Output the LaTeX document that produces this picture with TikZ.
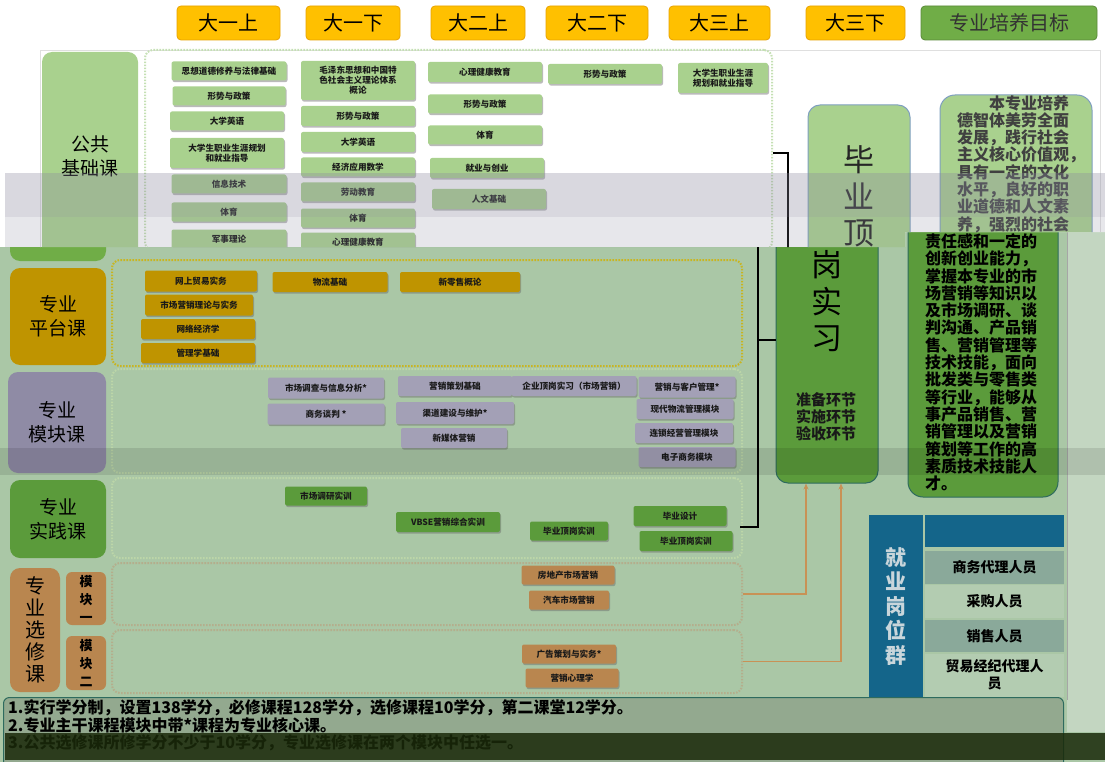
\documentclass[tikz,border=0pt]{standalone}
\usepackage{fontspec}
\setmainfont{Noto Sans CJK SC}
\usetikzlibrary{shadows,arrows.meta}
\definecolor{lowbg}{HTML}{AAC7A6}
\definecolor{lgreen}{HTML}{A9D18E}
\definecolor{ggreen}{HTML}{70AD47}
\definecolor{gold}{HTML}{BF9400}
\definecolor{lav}{HTML}{A3A0B6}
\definecolor{lavlab}{HTML}{8F8BA5}
\definecolor{pgreen}{HTML}{5B9B3B}
\definecolor{tanc}{HTML}{B9864F}
\definecolor{tanline}{HTML}{C89256}
\definecolor{eblue}{HTML}{14658A}
\definecolor{rowd}{HTML}{8AA99A}
\definecolor{rowl}{HTML}{B3CCB1}
\definecolor{notebg}{HTML}{93A98F}
\definecolor{hdrfill}{HTML}{FFC000}
\definecolor{hdrdraw}{HTML}{E8A200}
\definecolor{dotlg}{HTML}{C5E0B4}
\definecolor{dotyl}{HTML}{C9B520}
\definecolor{dotmd}{HTML}{BCD6A8}
\definecolor{dotel}{HTML}{B4AE8C}
\definecolor{bluegrey}{HTML}{7F9FC0}
\definecolor{dteal}{HTML}{2E6B5E}
\definecolor{bandc}{HTML}{8A889E}
\definecolor{darkband}{HTML}{1A2A0A}
\definecolor{strip}{HTML}{C3D6C1}
\definecolor{jobtxt}{HTML}{C9D6DB}
\begin{document}
\begin{tikzpicture}[x=1pt,y=-1pt,
  crs/.style={rounded corners=2pt, inner sep=1pt, align=center,
    font=\fontsize{8.6}{10}\selectfont\bfseries, text=black!90,
    drop shadow={shadow xshift=1pt,shadow yshift=-1.6pt,opacity=0.45,fill=black!60}},
  lg/.style={crs, fill=lgreen},
  gd/.style={crs, fill=gold},
  pu/.style={crs, fill=lav},
  dg/.style={crs, fill=pgreen},
  br/.style={crs, fill=tanc},
  lab/.style={rounded corners=10pt, align=center, inner sep=0,
    font=\fontsize{19}{24}\selectfont},
  dotbox/.style={draw=#1, rounded corners=8pt, line width=2pt,
    dash pattern=on 1.6pt off 1.4pt, inner sep=0},
  hdr/.style={rounded corners=4pt, fill=hdrfill, draw=hdrdraw, line width=0.8pt,
    minimum height=34pt, inner sep=0, font=\fontsize{20}{22}\selectfont},
  brk/.style={line width=2.5pt, black},
  tanarr/.style={draw=tanline, line width=1.2pt, -{Stealth[length=6pt,width=5pt]}},
  goaltxt/.style={anchor=north west, align=left, inner sep=0,
    font=\fontsize{16}{17.3}\selectfont\bfseries},
  bigtxt/.style={align=center, inner sep=0, font=\fontsize{31}{36.5}\selectfont},
  row/.style={minimum width=139pt, inner sep=0, align=center,
    font=\fontsize{14}{17}\selectfont\bfseries},
  note/.style={anchor=west, inner sep=0, font=\fontsize{16}{18}\selectfont\bfseries}
]
\useasboundingbox (0,0) rectangle (1105,762);

% ===== lower layer =====
\fill[lowbg] (0,0) rectangle (1105,762);
\fill[strip] (1067,230) rectangle (1105,732);
\draw[gray!70, line width=0.8pt] (1067,230) -- (1067,700);

% public basic remnant
\node[lab, fill=ggreen, minimum width=96pt, minimum height=80pt] (pubL) at (58,221) {};

% platform
\node[dotbox=dotyl, minimum width=630pt, minimum height=106pt] (plat) at (427,313) {};
\node[lab, fill=gold, minimum width=96pt, minimum height=97pt] (platL) at (58,316.5) {专业\\平台课};
\node[gd, minimum width=112pt, minimum height=21pt] (p1) at (201,281) {网上贸易实务};
\node[gd, minimum width=108pt, minimum height=21pt] (p2) at (199,305) {市场营销理论与实务};
\node[gd, minimum width=114pt, minimum height=20pt] (p3) at (198,329) {网络经济学};
\node[gd, minimum width=114pt, minimum height=20pt] (p4) at (198,353) {管理学基础};
\node[gd, minimum width=115pt, minimum height=20pt] (p5) at (330,282) {物流基础};
\node[gd, minimum width=120pt, minimum height=20pt] (p6) at (460,282) {新零售概论};

% module
\node[dotbox=dotmd, minimum width=630pt, minimum height=104pt] (modu) at (427,421) {};
\node[lab, fill=lavlab, minimum width=98pt, minimum height=101pt] (moduL) at (57,422.5) {专业\\模块课};
\node[pu, minimum width=116pt, minimum height=21pt] (m1) at (326,388) {市场调查与信息分析*};
\node[pu, minimum width=117pt, minimum height=21pt] (m2) at (326,414) {商务谈判 *};
\node[pu, minimum width=114pt, minimum height=20pt] (m3) at (455,386) {营销策划基础};
\node[pu, minimum width=118pt, minimum height=22pt] (m4) at (455,413) {渠道建设与维护*};
\node[pu, minimum width=106pt, minimum height=20pt] (m5) at (454,438) {新媒体营销};
\node[pu, minimum width=125pt, minimum height=20pt] (m6) at (574,386) {企业顶岗实习（市场营销）};
\node[pu, minimum width=97pt, minimum height=21pt] (m7) at (687,387) {营销与客户管理*};
\node[pu, minimum width=97pt, minimum height=20pt] (m8) at (685,409) {现代物流管理模块};
\node[pu, minimum width=98pt, minimum height=20pt] (m9) at (684,433) {连锁经营管理模块};
\node[pu, minimum width=97pt, minimum height=20pt] (m10) at (687,457) {电子商务模块};

% practice
\node[dotbox=dotmd, minimum width=630pt, minimum height=80pt] (prac) at (427,518) {};
\node[lab, fill=pgreen, minimum width=96pt, minimum height=78pt] (pracL) at (58,519) {专业\\实践课};
\node[dg, minimum width=82pt, minimum height=19pt] (s1) at (326,496) {市场调研实训};
\node[dg, minimum width=104pt, minimum height=20pt] (s2) at (448,522) {VBSE营销综合实训};
\node[dg, minimum width=78pt, minimum height=19pt] (s3) at (569,531) {毕业顶岗实训};
\node[dg, minimum width=93pt, minimum height=20pt] (s4) at (680,516) {毕业设计};
\node[dg, minimum width=93pt, minimum height=20pt] (s5) at (686,541) {毕业顶岗实训};

% electives
\node[dotbox=dotel, minimum width=630pt, minimum height=62pt] (el1) at (427,594) {};
\node[dotbox=dotel, minimum width=630pt, minimum height=63pt] (el2) at (427,661.5) {};
\node[lab, fill=tanc, minimum width=50pt, minimum height=124pt, font=\fontsize{20}{22}\selectfont] (elL) at (35,630) {专\\业\\选\\修\\课};
\node[lab, rounded corners=6pt, fill=tanc, minimum width=40pt, minimum height=53pt, font=\fontsize{13}{18}\selectfont\bfseries] (mk1) at (86,598.5) {模\\块\\一};
\node[lab, rounded corners=6pt, fill=tanc, minimum width=40pt, minimum height=54pt, font=\fontsize{13}{18}\selectfont\bfseries] (mk2) at (86,663) {模\\块\\二};
\node[br, minimum width=93pt, minimum height=19pt] (e1) at (568,575) {房地产市场营销};
\node[br, minimum width=80pt, minimum height=19pt] (e2) at (569,600) {汽车市场营销};
\node[br, minimum width=94pt, minimum height=19pt] (e3) at (569,654) {广告策划与实务*};
\node[br, minimum width=93pt, minimum height=19pt] (e4) at (572,678) {营销心理学};

% graduation internship (lower)
\node[draw=dteal, line width=1pt, fill=pgreen, rounded corners=12pt, minimum width=102pt, minimum height=333pt, inner sep=0] (gwL) at (827,316.5) {};
\node[bigtxt] (gwLt) at (827,301.5) {岗\\实\\习};
\node[align=center, inner sep=0, font=\fontsize{15}{17}\selectfont\bfseries, text=black!90] (gwLs) at (826,417) {准备环节\\实施环节\\验收环节};

\coordinate (brB) at (740,527);
\coordinate (tk) at (758,340);
\draw[brk] (brB) -- (758,527) -- (758,150);
\draw[brk] (tk) -- (tk -| gwL.west);
\draw[tanarr] (el1.east) -| ([xshift=-21pt]gwL.south);
\draw[tanarr] (el2.east) -| ([xshift=14pt]gwL.south);

% goal (lower)
\node[draw=dteal, line width=1pt, fill=pgreen, rounded corners=15pt, minimum width=150pt, minimum height=402pt, inner sep=0] (goalL) at (983,296) {};
\node[goaltxt, text=black] (goalLt) at (925,233.4) {责任感和一定的\\创新创业能力，\\掌握本专业的市\\场营销等知识以\\及市场调研、谈\\判沟通、产品销\\售、营销管理等\\技术技能，面向\\批发类与零售类\\等行业，能够从\\事产品销售、营\\销管理以及营销\\策划等工作的高\\素质技术技能人\\才。};

% employment
\node[fill=eblue, minimum width=54pt, minimum height=182pt, inner sep=0, align=center, text=jobtxt, font=\fontsize{21}{24.5}\selectfont\bfseries] (jobL) at (896,606) {就\\业\\岗\\位\\群};
\node[fill=eblue, minimum width=139pt, minimum height=32pt, inner sep=0] (jobH) at (994.5,531) {};
\node[row, fill=rowd, minimum height=33pt] (r1) at (994.5,567.5) {商务代理人员};
\node[row, fill=rowl, minimum height=33pt] (r2) at (994.5,601.5) {采购人员};
\node[row, fill=rowd, minimum height=32pt] (r3) at (994.5,636) {销售人员};
\node[row, fill=rowl, minimum height=43pt] (r4) at (994.5,675) {贸易经纪代理人\\员};

% darker band
\fill[black, opacity=0.1] (0,448) rectangle (1105,475);

% notes
\node[fill=notebg, draw=dteal, line width=1pt, rounded corners=6pt, minimum width=1060pt, minimum height=75pt, anchor=north west, inner sep=0] (notes) at (3,697) {};
\node[note] (n1) at (8,708) {1.实行学分制，设置138学分，必修课程128学分，选修课程10学分，第二课堂12学分。};
\node[note] (n2) at (8,725) {2.专业主干课程模块中带*课程为专业核心课。};
\node[note] (n3) at (8,743) {3.公共选修课所修学分不少于10学分，专业选修课在两个模块中任选一。};
\fill[darkband, opacity=0.85] (5,733) rectangle (1105,760);

% ===== top layer =====
\begin{scope}
\clip (0,0) -- (1105,0) -- (1105,232) -- (905,232) -- (905,247) -- (0,247) -- cycle;
\fill[white] (0,0) rectangle (1105,247);
\draw[gray!25, line width=0.8pt] (40,50) rectangle (1100,270);
\node[hdr, minimum width=103pt] (h1) at (228.5,23) {大一上};
\node[hdr, minimum width=94pt] (h2) at (353,23) {大一下};
\node[hdr, minimum width=94pt] (h3) at (478,23) {大二上};
\node[hdr, minimum width=102pt] (h4) at (597,23) {大二下};
\node[hdr, minimum width=101pt] (h5) at (719.5,23) {大三上};
\node[hdr, minimum width=99pt] (h6) at (855.5,23) {大三下};
\node[hdr, minimum width=176pt, fill=ggreen, draw=ggreen!80!black, text=black!80] (h7) at (1009,23) {专业培养目标};

\node[lab, fill=lgreen, minimum width=96pt, minimum height=208pt] (pubT) at (90,156) {公共\\基础课};
\node[dotbox=dotlg, minimum width=627pt, minimum height=200pt] (pubarea) at (458.5,150) {};

\node[lg, minimum width=115pt, minimum height=19pt] (c11) at (229,71) {思想道德修养与法律基础};
\node[lg, minimum width=113pt, minimum height=19pt] (c12) at (229,96) {形势与政策};
\node[lg, minimum width=114pt, minimum height=19pt] (c13) at (227,121) {大学英语};
\node[lg, minimum width=114pt, minimum height=30pt] (c14) at (227,153) {大学生职业生涯规划\\和就业指导};
\node[lg, minimum width=115pt, minimum height=19pt] (c15) at (229,184) {信息技术};
\node[lg, minimum width=115pt, minimum height=19pt] (c16) at (229,212) {体育};
\node[lg, minimum width=115pt, minimum height=19pt] (c17) at (229,239) {军事理论};

\node[lg, minimum width=114pt, minimum height=39pt] (c21) at (358,80.5) {毛泽东思想和中国特\\色社会主义理论体系\\概论};
\node[lg, minimum width=114pt, minimum height=20pt] (c22) at (358,116) {形势与政策};
\node[lg, minimum width=114pt, minimum height=20pt] (c23) at (358,142) {大学英语};
\node[lg, minimum width=114pt, minimum height=19pt] (c24) at (358,167) {经济应用数学};
\node[lg, minimum width=114pt, minimum height=19pt] (c25) at (358,192) {劳动教育};
\node[lg, minimum width=114pt, minimum height=19pt] (c26) at (358,218) {体育};
\node[lg, minimum width=114pt, minimum height=19pt] (c27) at (358,242) {心理健康教育};

\node[lg, minimum width=114pt, minimum height=20pt] (c31) at (485,72) {心理健康教育};
\node[lg, minimum width=114pt, minimum height=19pt] (c32) at (485,104) {形势与政策};
\node[lg, minimum width=114pt, minimum height=19pt] (c33) at (485,135) {体育};
\node[lg, minimum width=114pt, minimum height=20pt] (c34) at (487,168) {就业与创业};
\node[lg, minimum width=114pt, minimum height=20pt] (c35) at (489,199) {人文基础};
\node[lg, minimum width=114pt, minimum height=20pt] (c41) at (605,74) {形势与政策};
\node[lg, minimum width=90pt, minimum height=30pt] (c51) at (723,78) {大学生职业生涯\\规划和就业指导};

\coordinate (brT) at (773,153);
\draw[brk] (brT) -- (788,153) -- (788,260);

\node[draw=bluegrey, line width=1pt, fill=lgreen, rounded corners=12pt, minimum width=102pt, minimum height=378pt, inner sep=0] (gwT) at (859,294) {};
\node[bigtxt, text=black!85] (gwTt) at (859,196.5) {毕\\业\\顶};

\node[draw=bluegrey, line width=1pt, fill=lgreen, rounded corners=15pt, minimum width=152pt, minimum height=402pt, inner sep=0] (goalT) at (1016,296) {};
\node[goaltxt, text=black!75] (goalTt) at (957,95) {\hspace*{2em}本专业培养\\德智体美劳全面\\发展，践行社会\\主义核心价值观，\\具有一定的文化\\水平，良好的职\\业道德和人文素\\养，强烈的社会};
\end{scope}

% grey band overlay
\fill[bandc, opacity=0.32] (5,173) rectangle (1105,217);
\fill[bandc, opacity=0.2] (5,217) -- (1105,217) -- (1105,232) -- (905,232) -- (905,247) -- (5,247) -- cycle;
\end{tikzpicture}
\end{document}
